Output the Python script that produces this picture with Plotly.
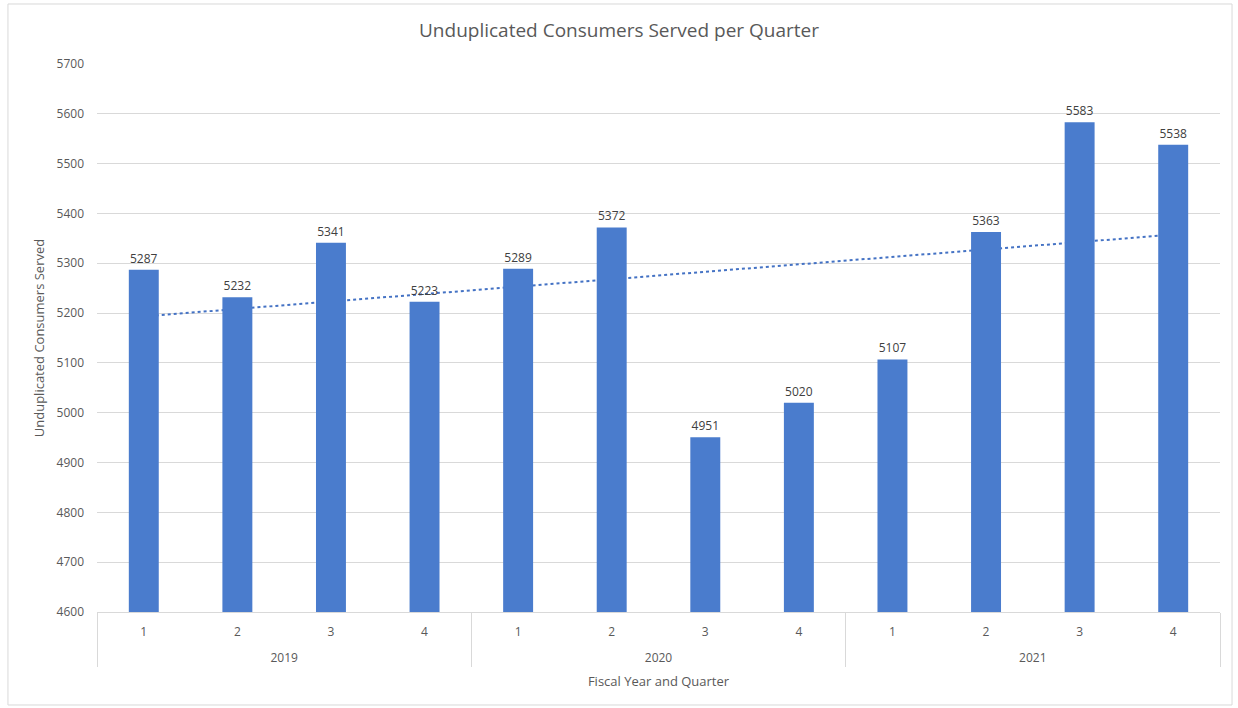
import numpy as np
import plotly.graph_objects as go

years = ["2019"] * 4 + ["2020"] * 4 + ["2021"] * 4
quarters = ["1", "2", "3", "4"] * 3
consumers = [5287, 5232, 5341, 5223, 5289, 5372, 4951, 5020, 5107, 5363, 5583, 5538]

idx = np.arange(1, len(consumers) + 1)
slope, intercept = np.polyfit(idx, consumers, 1)
trend = (slope * idx + intercept).tolist()

# inner-level labels get an empty second line to open the gap to the year row
quarter_labels = [q + "<br> " for q in quarters]

bar_color = "#4a7ccd"
text_color = "#595959"
font_family = "Open Sans, Liberation Sans, sans-serif"

fig = go.Figure()

# Linear trendline (base axes -> drawn underneath the bars)
fig.add_trace(go.Scatter(
    x=[years, quarter_labels], y=trend, mode="lines",
    line=dict(color="#4472c4", dash="dot", width=2),
    hoverinfo="skip", showlegend=False,
    xaxis="x", yaxis="y",
))

# Bars on overlaying axes so they sit on top of the trendline
fig.add_trace(go.Bar(
    x=[years, quarter_labels], y=consumers,
    marker=dict(color=bar_color, line=dict(width=0)),
    text=[str(v) for v in consumers], textposition="outside",
    textfont=dict(size=12, color="#404040", family=font_family),
    cliponaxis=False, showlegend=False,
    xaxis="x2", yaxis="y2",
))

xaxis_common = dict(type="multicategory", range=[-0.5, 11.5])
fig.update_layout(
    width=1238, height=708,
    paper_bgcolor="white", plot_bgcolor="white",
    margin=dict(l=97, r=18, t=64, b=96),
    bargap=0.68,
    font=dict(family=font_family, color=text_color, size=12),
    title=dict(text="Unduplicated Consumers Served per Quarter",
               x=0.5, xanchor="center", y=0.957, yanchor="middle",
               font=dict(size=19, color=text_color, family=font_family)),
    xaxis=dict(
        **xaxis_common,
        showgrid=False, showline=True, linecolor="#d9d9d9", linewidth=1,
        ticks="", showdividers=True, dividercolor="#d9d9d9", dividerwidth=1,
        ticklabelstandoff=9,
        tickfont=dict(size=12, color=text_color),
        title=dict(text="Fiscal Year and Quarter", font=dict(size=13, color=text_color), standoff=11),
    ),
    yaxis=dict(
        range=[4600, 5700], dtick=100, tick0=4600,
        showgrid=True, gridcolor="#d9d9d9", gridwidth=1,
        zeroline=False, showline=False, ticks="",
        tickfont=dict(size=12, color=text_color),
        ticklabelstandoff=12,
        title=dict(text="Unduplicated Consumers Served", font=dict(size=13, color=text_color), standoff=8),
    ),
    xaxis2=dict(**xaxis_common, overlaying="x", visible=False),
    yaxis2=dict(range=[4600, 5700], overlaying="y", visible=False),
    shapes=[dict(type="rect", xref="paper", yref="paper",
                 x0=-0.0793, x1=1.0107, y0=-0.1697, y1=1.1095,
                 line=dict(color="#d9d9d9", width=1), fillcolor="rgba(0,0,0,0)",
                 layer="below")],
)

fig.write_html("out.html", config={"displayModeBar": False},
               post_script="document.body.style.margin='0';")
